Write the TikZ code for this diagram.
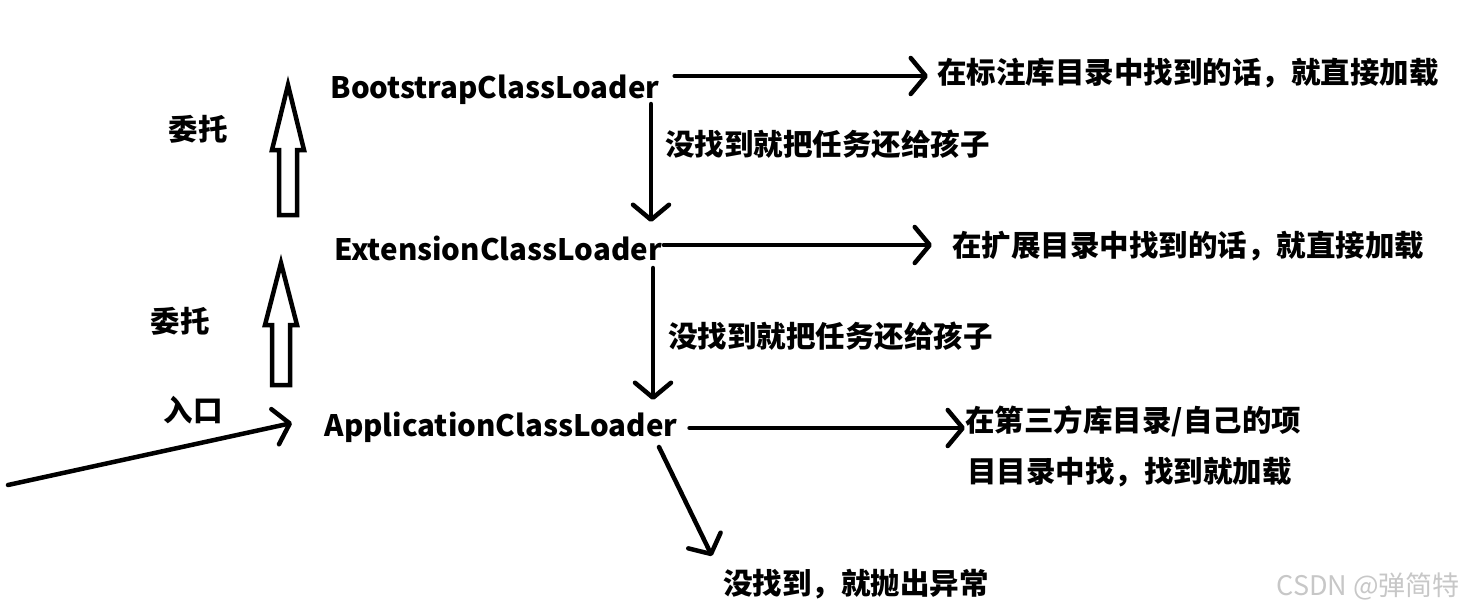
\documentclass[tikz,border=0pt]{standalone}
\usepackage{fontspec}
\setmainfont{Noto Sans CJK SC}
\usetikzlibrary{arrows.meta}

\tikzset{
    label text/.style={font=\fontsize{29.5}{34}\selectfont\bfseries, inner sep=0pt},
    loader/.style={label text},
    flow/.style={line width=4.5pt, line cap=round, -{Straight Barb[length=15, width=36, line width=4.5pt, round]}},
    hollow/.style={line width=4.5pt, line join=miter, fill=white},
}

\begin{document}
\begin{tikzpicture}[x=1pt, y=-1pt]
        \useasboundingbox (0, 0) rectangle (1465, 613);
        % Loaders
        \node [loader] (boot) at (495, 90) {BootstrapClassLoader};
        \node [loader] (ext) at (498, 248) {ExtensionClassLoader};
        \node [loader] (app) at (501, 427) {ApplicationClassLoader};
        % Results
        \node [label text, anchor=west] (bootok) at (937, 73) {在标注库目录中找到的话，就直接加载};
        \node [label text, anchor=west] (extok) at (952, 246) {在扩展目录中找到的话，就直接加载};
        \node [label text, anchor=west] (appok) at (965, 421) {在第三方库目录/自己的项};
        \node [label text, anchor=west] (appok2) at (967, 472) {目目录中找，找到就加载};
        \node [label text, anchor=west] (fail) at (723, 584) {没找到，就抛出异常};
        % Labels
        \node [label text, anchor=west] (back1) at (665, 144) {没找到就把任务还给孩子};
        \node [label text, anchor=west] (back2) at (668, 336) {没找到就把任务还给孩子};
        \node [label text] (up1) at (198, 129) {委托};
        \node [label text] (up2) at (180, 321) {委托};
        \node [label text] (entry) at (193, 410) {入口};
        \node [font=\fontsize{27}{32}\selectfont, text=black!22, anchor=east, inner sep=0pt] (mark) at (1460, 586) {CSDN @弹简特};
        % Arrows
        \coordinate (start) at (8, 485);
        \draw [flow] (start) -- (292, 423);
        \draw [flow] ([xshift=15pt, yshift=14pt]boot.east) -- ([xshift=-9pt, yshift=-3pt]bootok.west);
        \draw [flow] ([xshift=2pt, yshift=3pt]ext.east) -- ([xshift=-20pt, yshift=1pt]extok.west);
        \draw [flow] ([xshift=12pt, yshift=-1pt]app.east) -- ([yshift=-7pt]appok.west);
        \draw [flow] ([xshift=156pt, yshift=-14pt]boot.center) -- ([xshift=153pt, yshift=26pt]ext.center);
        \draw [flow] ([xshift=155pt, yshift=-20pt]ext.center) -- ([xshift=152pt, yshift=27pt]app.center);
        \draw [flow] ([xshift=158pt, yshift=-20pt]app.center) -- ([xshift=-11pt, yshift=28pt]fail.west);
        % Hollow arrows
        \draw [hollow] (279, 215) -- (279, 150) -- (272, 150) -- (288, 85) -- (304, 150) -- (297, 150) -- (297, 215) -- cycle;
        \draw [hollow] (272, 385) -- (272, 325) -- (265, 325) -- (281, 263) -- (297, 325) -- (290, 325) -- (290, 385) -- cycle;
    \end{tikzpicture}
\end{document}
